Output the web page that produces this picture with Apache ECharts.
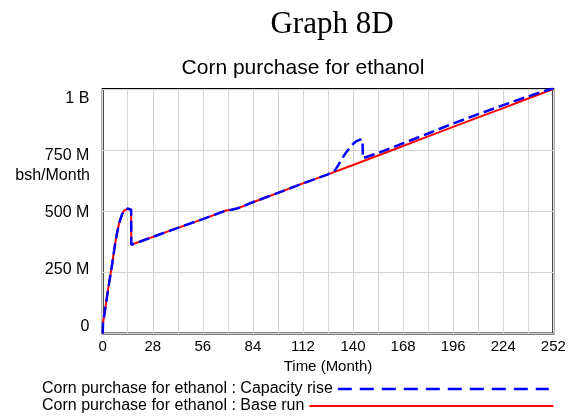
<!DOCTYPE html>
<html>
<head>
<meta charset="utf-8">
<script src="https://cdn.jsdelivr.net/npm/echarts@6/dist/echarts.min.js"></script>
<style>html,body{margin:0;padding:0;background:#fff;}#c{width:573px;height:417px;}</style>
</head>
<body>
<div id="c"></div>
<script>
// ---- data ----
const chartTitle = 'Graph 8D';
const chartSubtitle = 'Corn purchase for ethanol';
const xName = 'Time (Month)';
const yName = 'bsh/Month';
const yTickLabels = ['0', '250 M', '500 M', '750 M', '1 B'];
const capName = 'Corn purchase for ethanol : Capacity rise';
const baseName = 'Corn purchase for ethanol : Base run';

// Base run (months, values in millions bsh/Month)
const baseMonths = [0, 0.2, 1, 2, 3, 4, 5, 6, 7, 8, 9, 10, 11, 12, 13, 14, 15, 15.9, 16, 28, 42, 56, 69, 72, 75, 78, 81, 84, 98, 112, 126, 140, 154, 168, 182, 196, 210, 224, 238, 252];
const baseValues = [0, 45, 80, 130, 180, 225, 270, 320, 370, 410, 445, 470, 490, 503, 509, 511, 509, 506, 363, 395, 432, 468, 503, 506, 511, 519, 528, 537, 575, 614, 651, 689, 728, 767, 806, 845, 884, 922, 961, 1000];

// Capacity rise
const capMonths = [0, 0.2, 1, 2, 3, 4, 5, 6, 7, 8, 9, 10, 11, 12, 13, 14, 15, 15.9, 16, 28, 42, 56, 69, 72, 75, 78, 81, 84, 98, 112, 126, 128, 130, 132, 134, 136, 138, 140, 142, 144, 145.3, 145.5, 148, 154, 168, 182, 196, 210, 224, 238, 252];
const capValues = [0, 45, 80, 130, 180, 225, 270, 320, 370, 410, 445, 470, 490, 503, 509, 511, 509, 506, 363, 395, 432, 468, 503, 506, 511, 519, 528, 537, 575, 614, 651, 658, 668, 692, 717, 739, 758, 775, 787, 793, 794, 717, 723, 738, 778, 818, 859, 897, 934, 970, 1003];

const xMin = 0, xMax = 252, xGridStep = 14, xLabelStep = 28;
const yMin = 0, yMax = 1000, yStep = 250;

const sans = 'Liberation Sans, Arial, sans-serif';
const chart = echarts.init(document.getElementById('c'), null, {renderer: 'canvas'});
const zip = (xs, ys) => xs.map((x, i) => [x, ys[i]]);
const hiddenSymbol = {color: 'transparent', borderWidth: 0, opacity: 0};

chart.setOption({
  animation: false,
  backgroundColor: '#fff',
  title: [
    {text: chartTitle, left: 332, top: 9, textAlign: 'center', padding: 0,
     textStyle: {fontFamily: 'Liberation Serif, Times New Roman, serif', fontSize: 31, fontWeight: 'normal', color: '#000'}},
    {text: chartSubtitle, left: 303, top: 58, textAlign: 'center', padding: 0,
     textStyle: {fontFamily: sans, fontSize: 21, fontWeight: 'normal', color: '#000'}},
    {text: yName, left: 90, top: 168, textAlign: 'right', padding: 0,
     textStyle: {fontFamily: sans, fontSize: 16, fontWeight: 'normal', color: '#000'}}
  ],
  legend: [
    {data: [capName], left: 42, top: 381, padding: 0, align: 'right', itemWidth: 211, itemHeight: 14,
     textStyle: {fontFamily: sans, fontSize: 16, color: '#000'}, selectedMode: false,
     itemStyle: hiddenSymbol, lineStyle: {type: [14, 8], width: 2.5}},
    {data: [baseName], left: 42, top: 398, padding: 0, align: 'right', itemWidth: 244, itemHeight: 14,
     textStyle: {fontFamily: sans, fontSize: 16, color: '#000'}, selectedMode: false,
     itemStyle: hiddenSymbol, lineStyle: {width: 2}}
  ],
  grid: [
    {left: 102.7, right: 19.7, top: 89, bottom: 83.5, show: true, borderColor: '#000', borderWidth: 2, backgroundColor: 'transparent'},
    {left: 102.7, right: 19.7, top: 98.3, bottom: 90.3, show: false}
  ],
  xAxis: [
    {type: 'value', gridIndex: 0, min: xMin, max: xMax, interval: xGridStep,
     name: xName, nameLocation: 'middle', nameGap: 25,
     nameTextStyle: {fontFamily: sans, fontSize: 15, color: '#000'},
     axisLine: {show: false}, axisTick: {show: false},
     axisLabel: {margin: 6, fontFamily: sans, fontSize: 15, color: '#000',
       formatter: v => (v % xLabelStep === 0 ? String(v) : '')},
     splitLine: {show: true, lineStyle: {color: '#d4d4d4', width: 1}}},
    {type: 'value', gridIndex: 1, min: xMin, max: xMax, show: false}
  ],
  yAxis: [
    {type: 'value', gridIndex: 0, min: yMin, max: yMax, interval: yStep,
     axisLine: {show: false}, axisTick: {show: false}, axisLabel: {show: false},
     splitLine: {show: true, lineStyle: {color: '#d4d4d4', width: 1}}},
    {type: 'value', gridIndex: 1, min: yMin, max: yMax, interval: yStep,
     axisLine: {show: false}, axisTick: {show: false}, splitLine: {show: false},
     axisLabel: {margin: 13.4, fontFamily: sans, fontSize: 16, color: '#000',
       formatter: v => yTickLabels[Math.round((v - yMin) / yStep)]}}
  ],
  series: [
    {name: baseName, type: 'line', xAxisIndex: 0, yAxisIndex: 0, data: zip(baseMonths, baseValues),
     symbol: 'none', showSymbol: false, smooth: false, z: 2,
     lineStyle: {color: '#ff0000', width: 2}, itemStyle: {color: '#ff0000'}},
    {name: capName, type: 'line', xAxisIndex: 0, yAxisIndex: 0, data: zip(capMonths, capValues),
     symbol: 'none', showSymbol: false, smooth: false, z: 3,
     lineStyle: {color: '#0000ff', width: 2.5, type: [11, 5]}, itemStyle: {color: '#0000ff'}}
  ]
});
</script>
</body>
</html>
